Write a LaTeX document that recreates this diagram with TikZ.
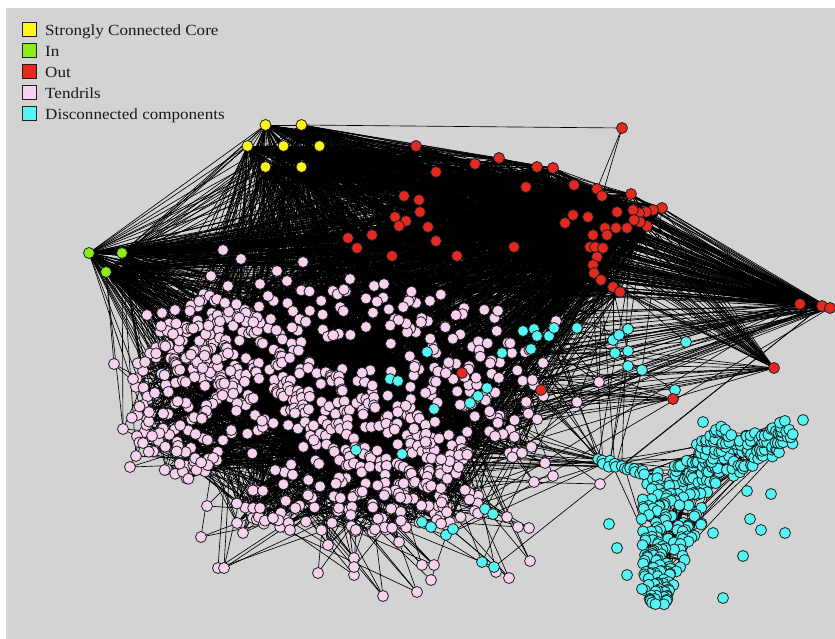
\documentclass[tikz,border=0pt]{standalone}
\usepackage{fontspec}
\setmainfont{Liberation Serif}[FakeStretch=1.1]
\definecolor{bggray}{RGB}{211,211,211}
\definecolor{cyel}{RGB}{255,245,25}
\definecolor{cgrn}{RGB}{140,235,25}
\definecolor{cred}{RGB}{228,42,32}
\definecolor{cpnk}{RGB}{246,210,238}
\definecolor{ccyn}{RGB}{85,245,245}
\definecolor{outl}{RGB}{30,30,30}
\tikzset{
  lnk/.style={line width=0.65pt, draw=black},
  vdot/.style={draw=outl, line width=0.8pt},
  legbox/.style={draw=outl, line width=0.9pt, minimum size=14pt, inner sep=0pt},
  legtxt/.style={anchor=base west, inner sep=0pt, font=\fontsize{15.5}{17}\selectfont, text=black!90}
}
% random elliptic blob of pink vertices
\newcommand\pinkblob[7]{%
  \foreach \i in {1,...,#2}{%
    \pgfmathtruncatemacro\j{#1+\i-1}%
    \pgfmathsetmacro\bang{360*rnd}%
    \pgfmathsetmacro\brad{pow(0.001+0.999*rnd,#7)}%
    \coordinate (pk\j) at ({#3+#5*\brad*cos(\bang)},{#4+#6*\brad*sin(\bang)});
  }}
% random band of vertices along a segment: prefix, start, count, x0, y0, x1, y1, w0, w1
\newcommand\segband[9]{%
  \pgfmathsetmacro\armL{veclen(#6-#4,#7-#5)}%
  \foreach \i in {1,...,#3}{%
    \pgfmathtruncatemacro\j{#2+\i-1}%
    \pgfmathsetmacro\armt{(\i-1+rnd)/#3}%
    \pgfmathsetmacro\armw{(#8+(#9-#8)*\armt)*(2*rnd-1)}%
    \pgfmathsetmacro\armx{#4+(#6-#4)*\armt-(#7-#5)/\armL*\armw}%
    \pgfmathsetmacro\army{#5+(#7-#5)*\armt+(#6-#4)/\armL*\armw}%
    \coordinate (#1\j) at (\armx,\army);
  }}
% random edges between two named families
\newcommand\rndedges[7]{%
  \foreach \k in {1,...,#1}{%
    \pgfmathrandominteger{\ea}{#3}{#4}%
    \pgfmathrandominteger{\eb}{#6}{#7}%
    \draw[lnk] (#2\ea) -- (#5\eb);
  }}
\newcommand\drawverts[3]{%
  \foreach \i in {1,...,#2}{\filldraw[vdot, fill=#3] (#1\i) circle[radius=5.5pt];}}
\begin{document}
\begin{tikzpicture}[x=1pt,y=-1pt]
\pgfmathsetseed{4711}
\useasboundingbox (0,0) rectangle (835,639);
\fill[white] (0,0) rectangle (835,639);
\fill[bggray] (6,8) rectangle (835,639);
\clip (6,8) rectangle (835,639);

% ---------- vertex positions ----------
\foreach \x/\y [count=\i] in {265.5/125,301.5/125,247.5/146,283.5/146,319.5/146,265.5/167,301.5/167}
  {\coordinate (y\i) at (\x,\y);}
\foreach \x/\y [count=\i] in {89/253,122/253,106/272}
  {\coordinate (g\i) at (\x,\y);}
\foreach \x/\y [count=\i] in {622/128,416/146,499/158,537/167,553/168,436/172,475/164,526/187,574/185,597/189,
  602/196,631/194,662/208,653/210,646/212,639/213,633/210,617/212,573/215,588/217,
  565/223,647/226,640/222,634/220,627/228,616/228,605/228,607/235,593/235,590/247,
  595/247,603/248,597/257,593/265,594/273,601/280,613/287,620/292,514/247,404/196,
  419/200,420/212,395/217,406/221,399/226,428/227,436/241,348/238,372/235,357/248,
  392/256,457/256,800/304,822/306,830/308,774/368,673/399,462/373,541/390}
  {\coordinate (r\i) at (\x,\y);}
\foreach \x/\y [count=\i] in {114/364,133/379,123/429,130/467,136/456,143/443,201/537,218/568,224/568,207/506,
  147/315,162/313,175/310,161/326,173/334,318/573,354/575,383/596,417/592,431/580,
  422/565,434/565,354/558,354/567,399/542,530/561,509/578,496/572,600/484,529/528,
  518/527,507/517,534/482,553/476,545/463,223/250,241/259,303/262,277/271,211/276,
  228/286,287/281,260/284,268/296,350/279,374/286,384/284,599/382,577/402,556/321,
  243/533,237/523,273/518,290/530,260/508,328/545}
  {\coordinate (po\i) at (\x,\y);}
\foreach \x/\y [count=\i] in {523/331,534/329,537/336,549/336,554/328,577/328,613/340,619/335,628/329,615/353,
  628/351,628/366,642/370,686/342,675/390,531/349,502/353,427/352,390/379,398/381,
  487/388,478/396,470/403,434/409,356/450,402/454,485/509,493/514,422/522,431/527,
  446/535,453/529,482/562,494/567,703/422,803/420,747/491,771/494,750/519,761/530,
  785/533,713/533,743/556,723/598,609/524,642/589,617/548,627/575}
  {\coordinate (cm\i) at (\x,\y);}
% pink cloud (pk1..pk750)
\segband{pk}{1}{300}{185}{325}{455}{480}{45}{40}
\pinkblob{301}{140}{185}{400}{55}{80}{0.5}
\pinkblob{441}{80}{340}{312}{160}{25}{0.5}
\pinkblob{521}{100}{480}{400}{75}{75}{0.55}
\pinkblob{621}{100}{360}{505}{130}{28}{0.5}
\pinkblob{721}{15}{290}{445}{45}{40}{0.5}
\pinkblob{736}{15}{410}{375}{50}{40}{0.5}
% cyan component (cc1..cc340)
\segband{cc}{1}{25}{597}{459}{675}{486}{5}{9}
\segband{cc}{26}{130}{675}{484}{792}{432}{20}{13}
\segband{cc}{156}{150}{678}{486}{654}{604}{38}{11}
\segband{cc}{306}{35}{700}{456}{728}{430}{13}{10}

% ---------- edges ----------
\foreach \a in {1,...,7}{\foreach \b in {2,...,55}{\draw[lnk] (y\a) -- (r\b);}}
\foreach \a in {1,...,3}{\foreach \b in {2,...,55}{\draw[lnk] (g\a) -- (r\b);}}
\foreach \a in {1,...,7}{\foreach \b in {1,...,3}{\draw[lnk] (g\b) -- (y\a);}}
\foreach \a/\b in {1/2,1/3,1/4,3/4,2/4,3/6,4/6,4/7,2/5,5/7,1/5,3/7}{\draw[lnk] (y\a) -- (y\b);}
\draw[lnk] (y2) -- (r1);
\draw[lnk] (r1) -- (r10);
\draw[lnk] (r1) -- (r11);
\draw[lnk] (r11) -- (r12);
\rndedges{700}{r}{2}{52}{r}{2}{52}
\foreach \a in {2,...,52}{\foreach \b in {53,54,55}{\draw[lnk] (r\a) -- (r\b);}}
\foreach \a in {10,...,38}{\draw[lnk] (r\a) -- (r56);}
\rndedges{700}{r}{2}{52}{pk}{1}{750}
\rndedges{50}{r}{53}{56}{pk}{1}{750}
\rndedges{24}{r}{57}{59}{pk}{1}{750}
\rndedges{80}{r}{2}{52}{po}{36}{56}
\rndedges{220}{y}{1}{7}{pk}{1}{750}
\rndedges{150}{g}{1}{3}{pk}{1}{750}
\rndedges{40}{y}{1}{7}{po}{1}{56}
\rndedges{40}{g}{1}{3}{po}{1}{56}
\rndedges{1400}{pk}{1}{750}{pk}{1}{750}
\foreach \i in {1,...,56}{%
  \pgfmathrandominteger{\ea}{1}{750}\draw[lnk] (po\i) -- (pk\ea);
  \pgfmathrandominteger{\eb}{1}{750}\draw[lnk] (po\i) -- (pk\eb);}
\foreach \i in {1,...,34}{%
  \pgfmathrandominteger{\ea}{1}{750}\draw[lnk] (cm\i) -- (pk\ea);
  \pgfmathrandominteger{\eb}{2}{59}\draw[lnk] (cm\i) -- (r\eb);}
\foreach \i in {1,...,335}{%
  \pgfmathrandominteger{\ea}{1}{5}\pgfmathtruncatemacro\ej{\i+\ea}\draw[lnk] (cc\i) -- (cc\ej);
  \pgfmathrandominteger{\eb}{1}{5}\pgfmathtruncatemacro\ek{\i+\eb}\draw[lnk] (cc\i) -- (cc\ek);}
\rndedges{80}{cc}{1}{340}{cc}{1}{340}
\rndedges{15}{cc}{1}{8}{pk}{1}{750}
\rndedges{10}{cc}{1}{8}{r}{2}{59}
\rndedges{10}{cc}{1}{8}{cm}{1}{34}

% ---------- vertices ----------
\drawverts{pk}{750}{cpnk}
\drawverts{po}{56}{cpnk}
\drawverts{cc}{340}{ccyn}
\drawverts{cm}{48}{ccyn}
\drawverts{r}{59}{cred}
\drawverts{y}{7}{cyel}
\drawverts{g}{3}{cgrn}

% ---------- legend ----------
\node[legbox, fill=cyel] (lb1) at (29.5,29.5) {};
\node[legbox, fill=cgrn] (lb2) at (29.5,50.5) {};
\node[legbox, fill=cred] (lb3) at (29.5,71.5) {};
\node[legbox, fill=cpnk] (lb4) at (29.5,92.5) {};
\node[legbox, fill=ccyn] (lb5) at (29.5,113.5) {};
\node[legtxt] (lt1) at (45,35.5) {Strongly Connected Core};
\node[legtxt] (lt2) at (45,56.5) {In};
\node[legtxt] (lt3) at (45,77.5) {Out};
\node[legtxt] (lt4) at (45,98.5) {Tendrils};
\node[legtxt] (lt5) at (45,119.5) {Disconnected components};
\end{tikzpicture}
\end{document}
